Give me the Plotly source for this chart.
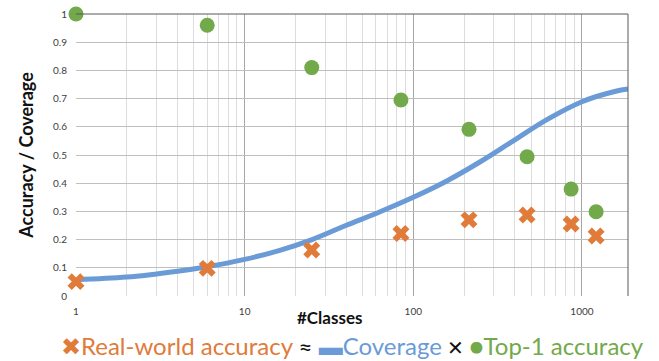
import numpy as np
import plotly.graph_objects as go

# Number of classes for each evaluated model
classes = [1, 6, 25, 84.5, 214, 473, 863, 1214]
# Top-1 accuracy on benchmark
top1_accuracy = [1.0, 0.96, 0.81, 0.695, 0.591, 0.494, 0.379, 0.299]
# Real-world accuracy
real_world_accuracy = [0.051, 0.098, 0.163, 0.222, 0.270, 0.287, 0.255, 0.213]

# Coverage curve samples
coverage_classes = [1, 2, 4, 6, 10, 15.8, 25.1, 39.8, 63.1, 100, 158, 251, 398, 631, 1000, 1585, 1876]
coverage = [0.058, 0.067, 0.088, 0.104, 0.130, 0.160, 0.200, 0.250, 0.298, 0.350,
            0.408, 0.477, 0.553, 0.628, 0.689, 0.726, 0.734]

x_ticks = [1, 10, 100, 1000]
y_ticks = [round(v * 0.1, 1) for v in range(11)]
y_tick_text = ["0", "0.1", "0.2", "0.3", "0.4", "0.5", "0.6", "0.7", "0.8", "0.9", "1"]

ORANGE = "#E07B39"
BLUE = "#6A9BD6"
GREEN = "#72A94A"
FONT = "Lato, Liberation Sans, sans-serif"

fig = go.Figure()

fig.add_trace(go.Scatter(
    x=coverage_classes, y=coverage, mode="lines", line_shape="spline",
    line=dict(color=BLUE, width=5), cliponaxis=True, hoverinfo="skip",
))
fig.add_trace(go.Scatter(
    x=classes, y=top1_accuracy, mode="markers",
    marker=dict(symbol="circle", size=15, color=GREEN), cliponaxis=False,
))
fig.add_trace(go.Scatter(
    x=classes, y=real_world_accuracy, mode="markers",
    marker=dict(symbol="x", size=15, color=ORANGE), cliponaxis=False,
))

x_max = np.log10(1876)

fig.update_layout(
    width=659, height=361,
    margin=dict(l=76, r=31, t=14, b=65, autoexpand=False),
    paper_bgcolor="white", plot_bgcolor="white",
    showlegend=False,
    font=dict(family=FONT, color="#595959"),
    xaxis=dict(
        type="log", range=[0, x_max], automargin=False,
        tickvals=x_ticks, ticktext=[str(v) for v in x_ticks],
        tickfont=dict(size=10, color="#404040"),
        showgrid=True, gridcolor="#A6A6A6", gridwidth=1,
        minor=dict(dtick="D1", showgrid=True, gridcolor="#DDDDDD", gridwidth=1, ticks=""),
        showline=False, zeroline=False,
        ticks="outside", ticklen=6, tickcolor="rgba(0,0,0,0)",
    ),
    yaxis=dict(
        range=[0, 1], automargin=False,
        tickvals=y_ticks, ticktext=y_tick_text,
        tickfont=dict(size=10, color="#404040"),
        showgrid=True, gridcolor="#BFBFBF", gridwidth=1,
        zeroline=False, showline=False,
        ticks="outside", ticklen=6, tickcolor="rgba(0,0,0,0)",
        title=dict(text="<b>Accuracy / Coverage</b>", font=dict(size=18, color="#111111"), standoff=14),
    ),
)

# Dark frame on the top and right sides of the plotting area
fig.add_shape(type="line", xref="x domain", yref="y domain", x0=0, x1=1, y0=1, y1=1,
              line=dict(color="#595959", width=1), layer="above")
fig.add_shape(type="line", xref="x domain", yref="y domain", x0=1, x1=1, y0=0, y1=1,
              line=dict(color="#595959", width=1), layer="above")

# x-axis title
fig.add_annotation(
    text="<b>#Classes</b>", xref="paper", yref="paper", x=0.46, y=-0.076,
    xanchor="center", yanchor="middle", showarrow=False,
    font=dict(size=17, family=FONT, color="#111111"),
)

legend_text = (
    f"<span style='color:{ORANGE}'>✖</span>"
    f"<span style='color:{ORANGE}'>Real-world accuracy</span>"
    f"<span style='color:#111111'> ≈ </span>"
    f"<span style='color:{BLUE}'>▬Coverage</span>"
    f"<span style='color:#111111;font-size:20px'> ✕ </span>"
    f"<span style='color:{GREEN}'>●</span>"
    f"<span style='color:{GREEN}'>Top-1 accuracy</span>"
)
fig.add_annotation(
    text=legend_text, xref="paper", yref="paper", x=0.5, y=-0.174,
    xanchor="center", yanchor="middle", showarrow=False,
    font=dict(size=24, family=FONT),
)

fig.write_html("out.html")
